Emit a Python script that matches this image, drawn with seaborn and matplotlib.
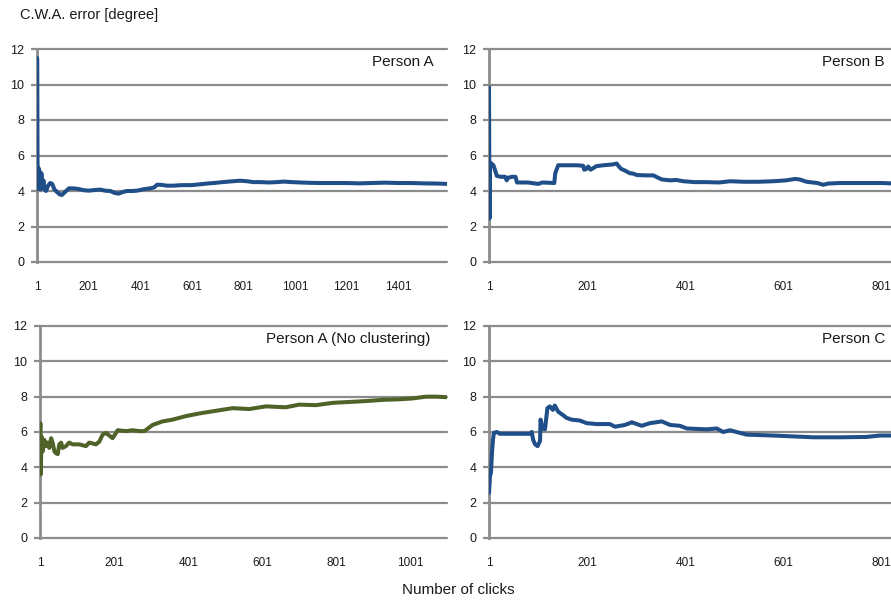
"""
C.W.A. error vs. number of clicks - four panel recreation
"""

import matplotlib
matplotlib.use('Agg')
import matplotlib.pyplot as plt
import seaborn as sns
import pandas as pd

# ============================================
# DATA
# ============================================

person_a_clicks = [1, 2, 3, 5, 7, 9, 12, 15, 18, 22, 26, 30, 36, 44, 52, 60, 68, 78, 90, 98,
                   110, 125, 140, 160, 180, 200, 220, 246, 265, 285, 300, 317, 335, 350, 370,
                   389, 414, 440, 455, 466, 480, 505, 530, 560, 600, 634, 660, 686, 720, 760,
                   789, 815, 840, 867, 900, 930, 957, 990, 1022, 1060, 1100, 1150, 1200, 1250,
                   1300, 1350, 1400, 1450, 1500, 1550, 1590]
person_a_error = [11.5, 11.4, 5.7, 4.1, 5.3, 4.2, 5.1, 4.1, 5.0, 4.2, 4.6, 4.1, 4.0, 4.3, 4.45,
                  4.4, 4.1, 3.95, 3.8, 3.78, 3.95, 4.15, 4.15, 4.12, 4.05, 4.02, 4.05, 4.08,
                  4.02, 4.0, 3.9, 3.85, 3.95, 4.0, 4.0, 4.02, 4.1, 4.15, 4.2, 4.35, 4.35, 4.3,
                  4.3, 4.33, 4.33, 4.38, 4.42, 4.45, 4.5, 4.55, 4.58, 4.55, 4.5, 4.5, 4.48, 4.5,
                  4.53, 4.5, 4.48, 4.46, 4.45, 4.45, 4.45, 4.43, 4.45, 4.47, 4.45, 4.45, 4.43,
                  4.42, 4.4]

person_b_clicks = [1, 2, 3, 6, 10, 13, 17, 25, 34, 37, 40, 48, 55, 58, 80, 101, 110, 134, 136,
                   142, 160, 180, 193, 195, 200, 203, 208, 214, 220, 234, 254, 261, 265, 270,
                   278, 288, 295, 302, 320, 336, 343, 353, 370, 383, 397, 420, 444, 470, 492,
                   520, 550, 580, 607, 624, 634, 648, 670, 682, 692, 716, 760, 800, 820]
person_b_error = [9.85, 2.45, 5.6, 5.55, 5.45, 5.2, 4.85, 4.8, 4.8, 4.6, 4.75, 4.8, 4.8, 4.48,
                  4.48, 4.4, 4.48, 4.45, 5.0, 5.45, 5.45, 5.45, 5.42, 5.2, 5.25, 5.38, 5.2, 5.3,
                  5.4, 5.45, 5.5, 5.55, 5.4, 5.25, 5.15, 5.0, 4.98, 4.9, 4.88, 4.88, 4.78, 4.65,
                  4.6, 4.62, 4.55, 4.5, 4.5, 4.48, 4.55, 4.52, 4.52, 4.55, 4.6, 4.68, 4.65,
                  4.52, 4.45, 4.35, 4.42, 4.45, 4.45, 4.45, 4.43]

person_a_nc_clicks = [1, 2, 3, 5, 8, 13, 17, 22, 26, 31, 35, 40, 44, 49, 53, 58, 62, 71, 80, 89,
                      107, 125, 134, 152, 161, 170, 179, 197, 211, 233, 251, 269, 283, 305, 332,
                      359, 395, 431, 476, 521, 566, 611, 665, 701, 746, 791, 836, 881, 926, 971,
                      1007, 1043, 1070, 1100]
person_a_nc_error = [5.75, 6.5, 3.6, 5.75, 4.9, 5.55, 5.2, 5.4, 5.1, 5.65, 5.4, 4.9, 4.8, 4.75,
                     5.3, 5.4, 5.1, 5.2, 5.4, 5.3, 5.3, 5.2, 5.4, 5.3, 5.45, 5.85, 5.95, 5.65,
                     6.1, 6.05, 6.1, 6.05, 6.05, 6.4, 6.6, 6.7, 6.9, 7.05, 7.2, 7.35, 7.3, 7.45,
                     7.4, 7.55, 7.52, 7.65, 7.7, 7.75, 7.82, 7.85, 7.9, 8.0, 8.0, 7.97]

person_c_clicks = [1, 3, 5, 7, 9, 11, 17, 23, 85, 88, 91, 95, 100, 105, 106, 110, 115, 120, 125,
                   131, 135, 142, 152, 159, 169, 186, 200, 220, 247, 258, 268, 278, 292, 312,
                   329, 353, 370, 390, 404, 444, 465, 478, 492, 512, 526, 580, 621, 662, 716,
                   770, 797, 820]
person_c_error = [2.55, 3.5, 3.7, 4.8, 5.55, 5.95, 6.0, 5.9, 5.9, 6.0, 5.55, 5.3, 5.2, 5.5, 6.7,
                  6.2, 6.15, 7.35, 7.45, 7.25, 7.5, 7.15, 6.95, 6.8, 6.7, 6.65, 6.5, 6.45, 6.45,
                  6.3, 6.35, 6.4, 6.55, 6.35, 6.5, 6.6, 6.4, 6.35, 6.2, 6.15, 6.2, 6.0, 6.1,
                  5.95, 5.85, 5.8, 5.75, 5.7, 5.7, 5.72, 5.8, 5.8]

y_ticks = [0, 2, 4, 6, 8, 10, 12]

# ============================================
# STYLE
# ============================================

sns.set_style("white")
plt.rcParams['font.family'] = ['Liberation Sans', 'DejaVu Sans']

BLUE = '#1F4E89'
GREEN = '#4F6228'
GRID = '#8C8C8C'
TEXT = '#1A1A1A'

W, H = 891, 600


def panel(fig, box, clicks, error, color, label, xmax, xticks, label_x):
    """Draw one Excel-style panel. box = (left, top, right, bottom) in pixels."""
    left, top, right, bottom = box
    ax = fig.add_axes([left / W, 1 - bottom / H, (right - left) / W, (bottom - top) / H])

    df = pd.DataFrame({'click': clicks, 'error': error})
    sns.lineplot(data=df, x='click', y='error', ax=ax, color=color, linewidth=2.9,
                 estimator=None, sort=False, solid_joinstyle='round', zorder=3)

    ax.set_xlim(1, xmax)
    ax.set_ylim(0, 12)
    ax.set_yticks(y_ticks)
    ax.set_xticks(xticks)
    ax.set_xticklabels([str(t) for t in xticks])
    ax.set_xlabel('')
    ax.set_ylabel('')

    for t in y_ticks:
        ax.axhline(t, color=GRID, linewidth=1.6, zorder=1, clip_on=False)

    for side in ['top', 'right', 'bottom']:
        ax.spines[side].set_visible(False)
    ax.spines['left'].set_color(GRID)
    ax.spines['left'].set_linewidth(2.0)
    ax.spines['left'].set_zorder(2)

    ax.tick_params(axis='y', direction='out', length=4, width=1.6, color=GRID,
                   labelsize=9, labelcolor=TEXT, pad=5, left=True)
    ax.tick_params(axis='x', length=0, labelsize=8.5, labelcolor=TEXT, pad=14)

    ax.text(label_x, 0.94, label, transform=ax.transAxes, ha='right', va='center',
            fontsize=11, color=TEXT)
    return ax


fig = plt.figure(figsize=(W / 100, H / 100), dpi=100)

panel(fig, (37, 49, 447, 262), person_a_clicks, person_a_error, BLUE, 'Person A',
      1590, [1, 201, 401, 601, 801, 1001, 1201, 1401], 0.968)
panel(fig, (489, 49, 891, 262), person_b_clicks, person_b_error, BLUE, 'Person B',
      820, [1, 201, 401, 601, 801], 0.985)
panel(fig, (40, 326, 447, 538), person_a_nc_clicks, person_a_nc_error, GREEN,
      'Person A (No clustering)', 1100, [1, 201, 401, 601, 801, 1001], 0.958)
panel(fig, (489, 326, 891, 538), person_c_clicks, person_c_error, BLUE, 'Person C',
      820, [1, 201, 401, 601, 801], 0.985)

fig.text(20 / W, 1 - 15 / H, 'C.W.A. error [degree]', ha='left', va='center',
         fontsize=10.5, color=TEXT)
fig.text(458 / W, 1 - 590 / H, 'Number of clicks', ha='center', va='center',
         fontsize=11, color=TEXT)

fig.savefig('out.png', dpi=100, facecolor='white')
plt.close(fig)
